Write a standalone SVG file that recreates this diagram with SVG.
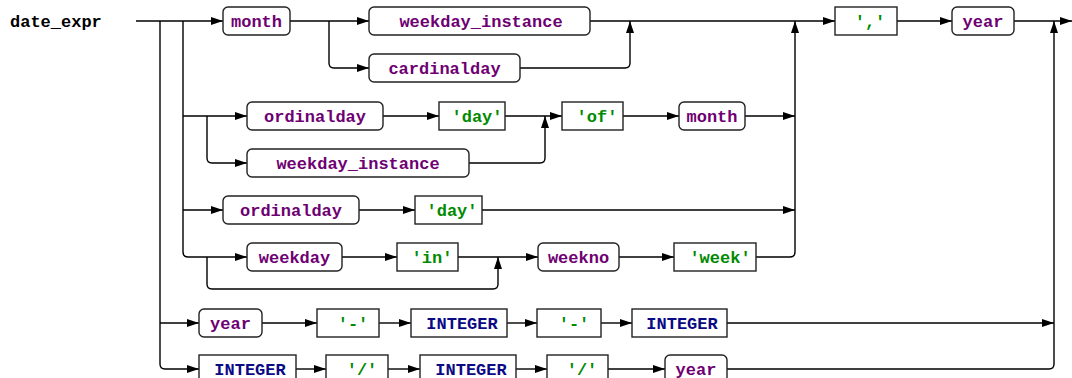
<svg xmlns="http://www.w3.org/2000/svg" width="1072" height="378" viewBox="0 0 1072 378">
  <defs>
    <marker id="arr" markerUnits="userSpaceOnUse" markerWidth="12" markerHeight="8" refX="12" refY="4" orient="auto">
      <path d="M0,0 L12,4 L0,8 z" fill="#000"/>
    </marker>
    <style>
      .bg { fill: #fff; }
      .wire { fill: none; stroke: #000; stroke-width: 1.4; }
      .wire.a { marker-end: url(#arr); }
      .nt rect { fill: #fff; stroke: #222; stroke-width: 1.4; }
      .t rect { fill: #fff; stroke: #222; stroke-width: 1.4; }
      text { font-family: "Liberation Mono", "Courier New", monospace; font-weight: bold; font-size: 17px; }
      .nt text { fill: #6e0073; text-anchor: middle; }
      .t text { fill: #008a00; text-anchor: middle; }
      .t.int text { fill: #0a0a85; }
      .title { fill: #000; }
    </style>
  </defs>
  <rect class="bg" x="0" y="0" width="1072" height="378"/>

  <text class="title" x="10" y="27">date_expr</text>

  <!-- connectors -->
  <g id="connectors">
    <!-- entry and the two main branch rails -->
    <path class="wire a" d="M136 21 H223"/>
    <path class="wire" d="M160 21 V364 Q160 369 165 369"/>
    <path class="wire" d="M183 21 V252 Q183 257 188 257"/>

    <!-- row 1: month (weekday_instance | cardinalday) -->
    <path class="wire a" d="M290 21 H369"/>
    <path class="wire a" d="M329 21 V63 Q329 68 334 68 H369"/>
    <path class="wire a" d="M520 68 H625 Q630 68 630 63 V21"/>
    <path class="wire a" d="M590 21 H835"/>
    <path class="wire a" d="M897 21 H952"/>
    <path class="wire a" d="M1014 21 H1072"/>

    <!-- row 2: (ordinalday 'day' | weekday_instance) 'of' month -->
    <path class="wire a" d="M183 116 H247"/>
    <path class="wire a" d="M207 116 V158 Q207 163 212 163 H247"/>
    <path class="wire a" d="M383 116 H439"/>
    <path class="wire a" d="M505 116 H562"/>
    <path class="wire a" d="M469 163 H540 Q545 163 545 158 V116"/>
    <path class="wire a" d="M623 116 H679"/>
    <path class="wire a" d="M745 116 H795"/>

    <!-- row 3: ordinalday 'day' -->
    <path class="wire a" d="M183 210 H223"/>
    <path class="wire a" d="M359 210 H415"/>
    <path class="wire a" d="M482 210 H795"/>

    <!-- row 4: [weekday 'in'] weekno 'week' -->
    <path class="wire a" d="M188 257 H247"/>
    <path class="wire a" d="M207 257 V284 Q207 289 212 289 H493 Q498 289 498 284 V257"/>
    <path class="wire a" d="M342 257 H397"/>
    <path class="wire a" d="M458 257 H538"/>
    <path class="wire a" d="M619 257 H674"/>
    <path class="wire a" d="M756 257 H790 Q795 257 795 252 V21"/>

    <!-- row 5: year '-' INTEGER '-' INTEGER -->
    <path class="wire a" d="M160 323 H199"/>
    <path class="wire a" d="M262 323 H317"/>
    <path class="wire a" d="M379 323 H411"/>
    <path class="wire a" d="M507 323 H537"/>
    <path class="wire a" d="M601 323 H632"/>
    <path class="wire a" d="M727 323 H1054"/>

    <!-- row 6: INTEGER '/' INTEGER '/' year -->
    <path class="wire a" d="M165 369 H199"/>
    <path class="wire a" d="M296 369 H326"/>
    <path class="wire a" d="M388 369 H420"/>
    <path class="wire a" d="M516 369 H547"/>
    <path class="wire a" d="M608 369 H665"/>
    <path class="wire a" d="M727 369 H1049 Q1054 369 1054 364 V21"/>
  </g>

  <!-- row 1 -->
  <g id="n-month-1" class="nt"><rect x="223" y="7" width="67" height="28" rx="5"/><text x="256.5" y="27">month</text></g>
  <g id="n-weekday-instance-1" class="nt"><rect x="369" y="7" width="221" height="28" rx="5"/><text x="481" y="27">weekday_instance</text></g>
  <g id="n-cardinalday" class="nt"><rect x="369" y="54" width="151" height="28" rx="5"/><text x="444.5" y="74">cardinalday</text></g>
  <g id="t-comma" class="t"><rect x="835" y="7" width="62" height="28"/><text x="870" y="27">','</text></g>
  <g id="n-year-1" class="nt"><rect x="952" y="7" width="62" height="28" rx="5"/><text x="983" y="27">year</text></g>

  <!-- row 2 -->
  <g id="n-ordinalday-1" class="nt"><rect x="247" y="102" width="136" height="28" rx="5"/><text x="315" y="122">ordinalday</text></g>
  <g id="t-day-1" class="t"><rect x="439" y="102" width="66" height="28"/><text x="477" y="122">'day'</text></g>
  <g id="n-weekday-instance-2" class="nt"><rect x="247" y="149" width="222" height="28" rx="5"/><text x="358" y="169">weekday_instance</text></g>
  <g id="t-of" class="t"><rect x="562" y="102" width="61" height="28"/><text x="597" y="122">'of'</text></g>
  <g id="n-month-2" class="nt"><rect x="679" y="102" width="66" height="28" rx="5"/><text x="712" y="122">month</text></g>

  <!-- row 3 -->
  <g id="n-ordinalday-2" class="nt"><rect x="223" y="196" width="136" height="28" rx="5"/><text x="291" y="216">ordinalday</text></g>
  <g id="t-day-2" class="t"><rect x="415" y="196" width="67" height="28"/><text x="452" y="216">'day'</text></g>

  <!-- row 4 -->
  <g id="n-weekday" class="nt"><rect x="247" y="243" width="95" height="28" rx="5"/><text x="294.5" y="263">weekday</text></g>
  <g id="t-in" class="t"><rect x="397" y="243" width="61" height="28"/><text x="432" y="263">'in'</text></g>
  <g id="n-weekno" class="nt"><rect x="538" y="243" width="81" height="28" rx="5"/><text x="578.5" y="263">weekno</text></g>
  <g id="t-week" class="t"><rect x="674" y="243" width="82" height="28"/><text x="720" y="263">'week'</text></g>

  <!-- row 5 -->
  <g id="n-year-2" class="nt"><rect x="199" y="309" width="63" height="28" rx="5"/><text x="230.5" y="329">year</text></g>
  <g id="t-dash-1" class="t"><rect x="317" y="309" width="62" height="28"/><text x="353" y="329">'-'</text></g>
  <g id="t-integer-1" class="t int"><rect x="411" y="309" width="96" height="28"/><text x="462" y="329">INTEGER</text></g>
  <g id="t-dash-2" class="t"><rect x="537" y="309" width="64" height="28"/><text x="574" y="329">'-'</text></g>
  <g id="t-integer-2" class="t int"><rect x="632" y="309" width="95" height="28"/><text x="682" y="329">INTEGER</text></g>

  <!-- row 6 -->
  <g id="t-integer-3" class="t int"><rect x="199" y="355" width="97" height="28"/><text x="250" y="375">INTEGER</text></g>
  <g id="t-slash-1" class="t"><rect x="326" y="355" width="62" height="28"/><text x="362" y="375">'/'</text></g>
  <g id="t-integer-4" class="t int"><rect x="420" y="355" width="96" height="28"/><text x="471" y="375">INTEGER</text></g>
  <g id="t-slash-2" class="t"><rect x="547" y="355" width="61" height="28"/><text x="582" y="375">'/'</text></g>
  <g id="n-year-3" class="nt"><rect x="665" y="355" width="62" height="28" rx="5"/><text x="696" y="375">year</text></g>
</svg>
